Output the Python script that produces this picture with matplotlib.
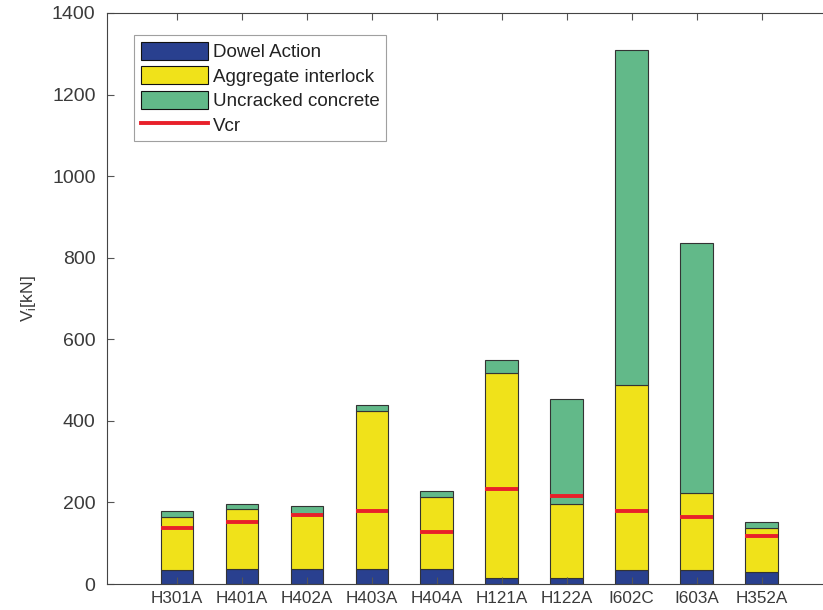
import numpy as np
import matplotlib.pyplot as plt
from matplotlib.lines import Line2D
from matplotlib.patches import Patch

plt.rcParams['font.family'] = ['Liberation Sans', 'DejaVu Sans']

# Shear contributions per specimen [kN]
specimens = ['H301A', 'H401A', 'H402A', 'H403A', 'H404A',
             'H121A', 'H122A', 'I602C', 'I603A', 'H352A']
dowel = np.array([34, 37, 37, 37, 37, 15, 15, 34, 34, 29])
aggregate = np.array([131, 146, 133, 386, 177, 502, 180, 454, 190, 108])
uncracked = np.array([14, 13, 22, 15, 13, 33, 259, 821, 613, 15])
vcr = np.array([138, 152, 168, 178, 127, 234, 215, 178, 164, 117])

C_DOWEL = '#29408f'
C_AGG = '#f0e21a'
C_UNCR = '#62b989'
C_VCR = '#e8202a'
C_EDGE = '#333333'
C_TEXT = '#3a3a3a'

fig = plt.figure(figsize=(8.23, 6.10), dpi=100)
# right edge of the axes runs past the figure border
ax = fig.add_axes([0.1304, 0.0426, 0.9, 0.9361])

x = np.arange(1, len(specimens) + 1)
w = 0.5
ax.bar(x, dowel, w, color=C_DOWEL, edgecolor=C_EDGE, linewidth=0.8)
ax.bar(x, aggregate, w, bottom=dowel, color=C_AGG, edgecolor=C_EDGE, linewidth=0.8)
ax.bar(x, uncracked, w, bottom=dowel + aggregate, color=C_UNCR, edgecolor=C_EDGE, linewidth=0.8)
ax.hlines(vcr, x - w / 2, x + w / 2, colors=C_VCR, linewidth=2.8, zorder=3)

ax.set_xlim(-0.07, 11.33)
ax.set_ylim(0, 1400)
ax.set_xticks(x)
ax.set_xticklabels(specimens)
ax.set_yticks(np.arange(0, 1401, 200))
ax.tick_params(direction='in', length=5, width=0.8, color='#555555',
               labelcolor=C_TEXT, top=True, right=True)
ax.tick_params(axis='x', labelsize=12.3, pad=5)
ax.tick_params(axis='y', labelsize=14, pad=8.5)
for s in ax.spines.values():
    s.set_color('#444444')
    s.set_linewidth(0.8)
ax.set_ylabel('V$_\\mathregular{i}$[kN]', fontsize=12.5, color=C_TEXT, labelpad=10)

handles = [Patch(facecolor=C_DOWEL, edgecolor='#111111', linewidth=0.8),
           Patch(facecolor=C_AGG, edgecolor='#111111', linewidth=0.8),
           Patch(facecolor=C_UNCR, edgecolor='#111111', linewidth=0.8),
           Line2D([], [], color=C_VCR, linewidth=2.8)]
labels = ['Dowel Action', 'Aggregate interlock', 'Uncracked concrete', 'Vcr']
leg = ax.legend(handles, labels, loc='upper left', bbox_to_anchor=(0.036, 0.9615),
                fontsize=13.5, frameon=True, fancybox=False, edgecolor='#888888',
                handlelength=3.6, handleheight=1.1, labelspacing=0.28,
                handletextpad=0.27, borderpad=0.35, borderaxespad=0)
leg.get_frame().set_linewidth(0.8)
for t in leg.get_texts():
    t.set_color('#222222')

fig.savefig('out.png', dpi=100)
